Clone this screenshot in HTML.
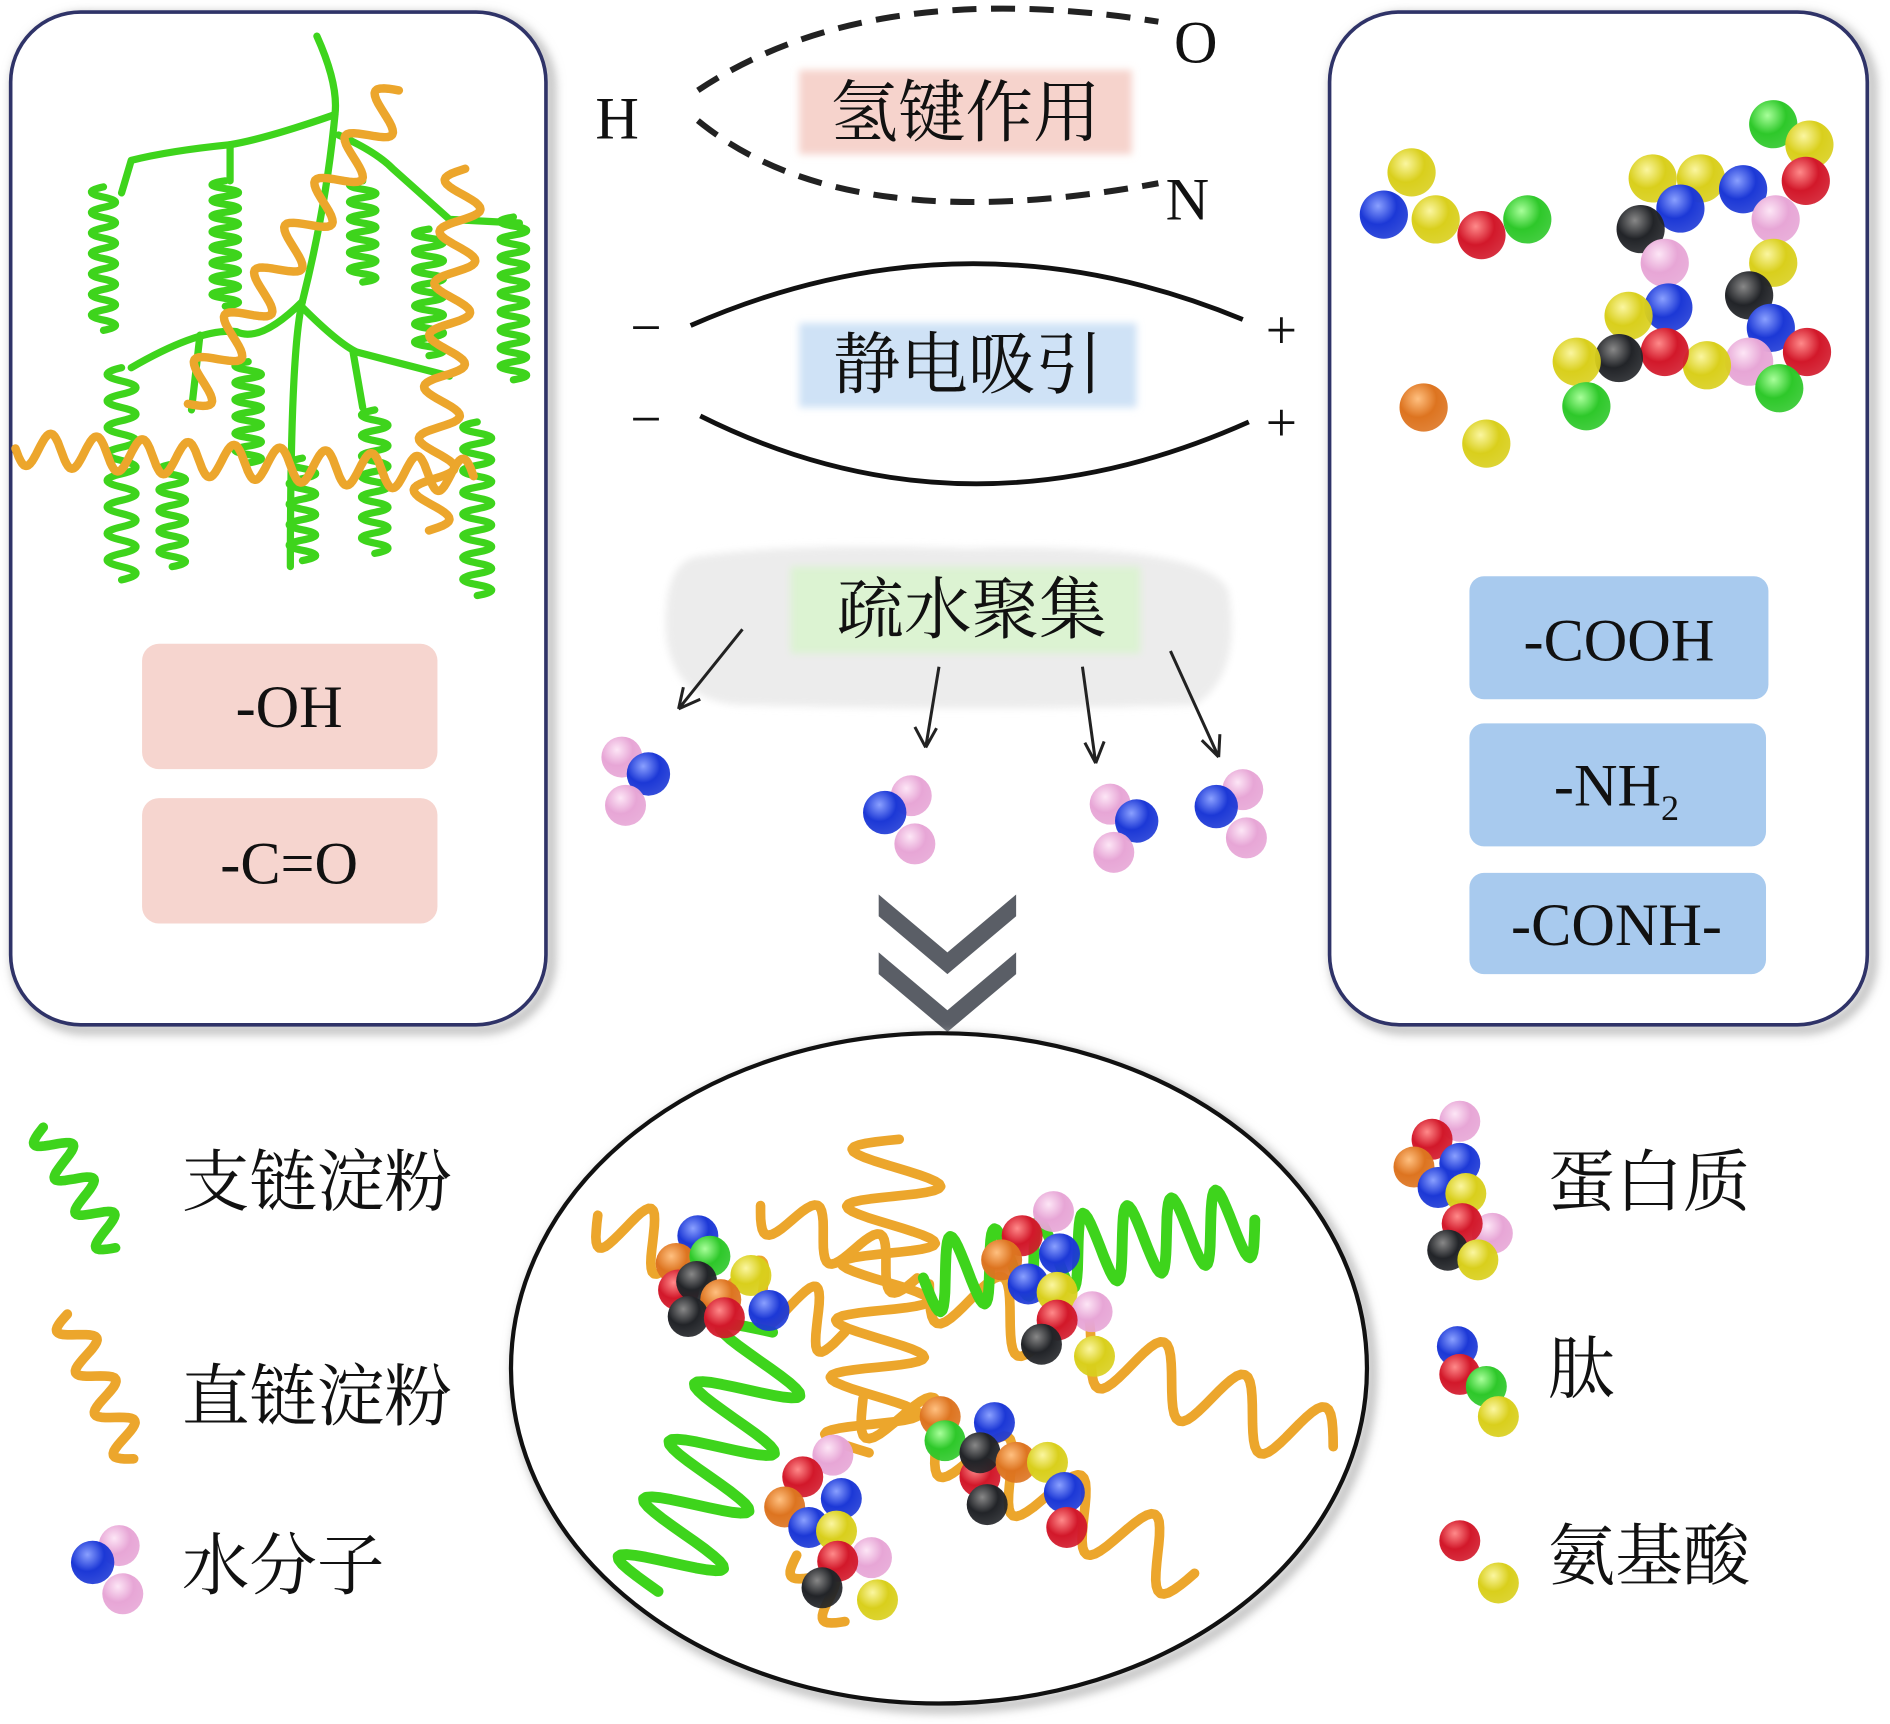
<!DOCTYPE html>
<html><head><meta charset="utf-8"><style>
html,body{margin:0;padding:0;background:#fff;width:1890px;height:1724px;overflow:hidden}
svg{display:block}
.cn{font-family:"Liberation Serif","Noto Serif CJK SC",serif;fill:#111}
.lt{font-family:"Liberation Serif",serif;fill:#111}
</style></head><body>
<svg id="s" width="1890" height="1724" viewBox="0 0 1566 1430" xmlns="http://www.w3.org/2000/svg">
<defs>
<filter id="blur" x="-20%" y="-20%" width="140%" height="140%"><feGaussianBlur stdDeviation="3"/></filter>
<filter id="sh" x="-10%" y="-10%" width="120%" height="120%"><feGaussianBlur stdDeviation="4"/></filter>
</defs>
<rect x="12" y="14" width="444" height="840" rx="58" fill="none" stroke="#bbb" stroke-width="8" filter="url(#sh)"/>
<rect x="8" y="10" width="444" height="840" rx="58" fill="#fff" stroke="#2f3368" stroke-width="3"/>
<rect x="1106" y="14" width="446" height="840" rx="58" fill="none" stroke="#bbb" stroke-width="8" filter="url(#sh)"/>
<rect x="1102" y="10" width="446" height="840" rx="58" fill="#fff" stroke="#2f3368" stroke-width="3"/>
<g id="left"></g>
<rect x="117" y="534" width="245" height="104" rx="14" fill="#f6d5cf"/>
<text class="lt" x="239" y="603" font-size="50" text-anchor="middle">-OH</text>
<rect x="117" y="662" width="245" height="104" rx="14" fill="#f6d5cf"/>
<text class="lt" x="239" y="733" font-size="50" text-anchor="middle">-C=O</text>
<rect x="1218" y="478" width="248" height="102" rx="12" fill="#a8caee"/>
<text class="lt" x="1342" y="548" font-size="50" text-anchor="middle">-COOH</text>
<rect x="1218" y="600" width="246" height="102" rx="12" fill="#a8caee"/>
<text class="lt" x="1340" y="668" font-size="50" text-anchor="middle">-NH<tspan font-size="30" dy="12">2</tspan></text>
<rect x="1218" y="724" width="246" height="84" rx="12" fill="#a8caee"/>
<text class="lt" x="1340" y="784" font-size="50" text-anchor="middle">-CONH-</text>
<text class="lt" x="493" y="115" font-size="50">H</text>
<text class="lt" x="973" y="52" font-size="50">O</text>
<text class="lt" x="966" y="182" font-size="50">N</text>
<path d="M578,75 Q720,-20 960,18" fill="none" stroke="#222" stroke-width="5" stroke-dasharray="20,12"/>
<path d="M578,100 Q700,200 960,152" fill="none" stroke="#222" stroke-width="5" stroke-dasharray="20,12"/>
<rect x="662" y="58" width="276" height="70" fill="#f6d3cc" filter="url(#blur)"/>
<text class="cn" x="800" y="113" font-size="56" text-anchor="middle">氢键作用</text>
<path d="M572,270 Q800,170 1030,265" fill="none" stroke="#111" stroke-width="4"/>
<path d="M580,345 Q800,455 1035,350" fill="none" stroke="#111" stroke-width="4"/>
<text class="lt" x="535" y="287" font-size="46" text-anchor="middle">−</text>
<text class="lt" x="535" y="363" font-size="46" text-anchor="middle">−</text>
<text class="lt" x="1062" y="289" font-size="46" text-anchor="middle">+</text>
<text class="lt" x="1062" y="366" font-size="46" text-anchor="middle">+</text>
<rect x="662" y="268" width="280" height="70" fill="#cfe2f6" filter="url(#blur)"/>
<text class="cn" x="802" y="322" font-size="56" text-anchor="middle">静电吸引</text>
<path d="M575,462 Q650,450 800,455 Q1000,450 1018,490 Q1030,560 990,585 Q800,590 620,585 Q560,585 552,530 Q548,470 575,462Z" fill="#ececec" filter="url(#blur)"/>
<rect x="655" y="470" width="290" height="72" fill="#dcf3d2" filter="url(#blur)"/>
<text class="cn" x="805" y="525" font-size="56" text-anchor="middle">疏水聚集</text>
<g stroke="#222" stroke-width="2.5" fill="none">
<path d="M615,522 L562,588 M562,588 L566,570 M562,588 L580,580"/>
<path d="M778,553 L767,620 M767,620 L758,603 M767,620 L776,604"/>
<path d="M897,553 L908,633 M908,633 L899,616 M908,633 L915,615"/>
<path d="M970,540 L1010,628 M1010,628 L996,614 M1010,628 L1011,609"/>
</g>
<path d="M728,742 L785,790 L842,742 L842,760 L785,808 L728,760Z" fill="#5a5e66"/>
<path d="M728,790 L785,838 L842,790 L842,808 L785,856 L728,808Z" fill="#5a5e66"/>
<ellipse cx="782" cy="1139" rx="355" ry="278" fill="none" stroke="#bbb" stroke-width="8" filter="url(#sh)"/>
<ellipse cx="778" cy="1135" rx="355" ry="278" fill="#fff" stroke="#111" stroke-width="3.5"/>
<g id="mid"></g>
<text class="cn" x="150" y="1000" font-size="56">支链淀粉</text>
<text class="cn" x="150" y="1178" font-size="56">直链淀粉</text>
<text class="cn" x="150" y="1318" font-size="56">水分子</text>
<text class="cn" x="1283" y="1000" font-size="56">蛋白质</text>
<text class="cn" x="1283" y="1155" font-size="56">肽</text>
<text class="cn" x="1283" y="1310" font-size="56">氨基酸</text>
<g id="balls"></g>
</svg>
<script>
var NS="http://www.w3.org/2000/svg",s=document.getElementById('s');
var defs=s.querySelector('defs');
var C={y:'#d9cf1c',b:'#1c38d6',r:'#d2182a',g:'#2ec82a',k:'#222428',p:'#e7a6d6',o:'#dd7420'};
var L={y:'#fbf6a0',b:'#8aa0ff',r:'#ff8a8a',g:'#a8ff9a',k:'#888',p:'#fde6f6',o:'#ffc080'};
for(var k in C){var gr=document.createElementNS(NS,'radialGradient');gr.setAttribute('id','g'+k);gr.setAttribute('cx','0.38');gr.setAttribute('cy','0.32');gr.setAttribute('r','0.7');
gr.innerHTML='<stop offset="0" stop-color="'+L[k]+'"/><stop offset="0.55" stop-color="'+C[k]+'"/><stop offset="1" stop-color="'+C[k]+'" stop-opacity="0.9"/>';defs.appendChild(gr);}
function el(p,t,a){var e=document.createElementNS(NS,t);for(var i in a)e.setAttribute(i,a[i]);document.getElementById(p).appendChild(e);return e;}
function ball(p,x,y,c,r){el(p,'circle',{cx:x,cy:y,r:r||19,fill:'url(#g'+c+')'});}
function line(p,d,col,w){el(p,'path',{d:d,fill:'none',stroke:col,'stroke-width':w||7,'stroke-linecap':'round','stroke-linejoin':'round'});}
function zig(p,x1,y1,x2,y2,a,n,col,w){var dx=x2-x1,dy=y2-y1,len=Math.hypot(dx,dy),nx=-dy/len,ny=dx/len,d='M'+x1+','+y1,N=n*12;
for(var i=1;i<=N;i++){var t=i/N,s=a*Math.sin(Math.PI*n*t);d+=' L'+(x1+dx*t+nx*s).toFixed(1)+','+(y1+dy*t+ny*s).toFixed(1);}line(p,d,col,w);}
function coil(p,x,y1,y2,a,pitch,col){var d='M'+x+','+y1,n=Math.round((y2-y1)/pitch);for(var i=0;i<n;i++){var y=y1+i*pitch;d+=' Q'+(x-a*2)+','+(y+pitch*0.25)+' '+x+','+(y+pitch*0.5)+' Q'+(x+a*2)+','+(y+pitch*0.75)+' '+x+','+(y+pitch);}line(p,d,col,6);}
var G='#3ed41c',O='#eca62c';
line('left','M262,30 Q280,70 277,95 Q270,170 250,250 Q240,290 240,470',G,6);
line('left','M277,95 Q220,115 190,120 Q140,125 108,133 L100,160',G,6);
line('left','M190,120 L190,150',G,6);
line('left','M280,112 Q310,125 325,140 L372,182 L430,185',G,6);
line('left','M250,250 Q215,285 195,275 Q165,272 108,305',G,6);
line('left','M165,278 L158,340',G,6);
line('left','M250,255 Q280,285 295,292 L372,312',G,6);
line('left','M292,292 L300,338',G,6);
[[85,155,280,10,17],[186,150,255,11,13],[300,150,230,11,14],[355,190,300,12,15],[425,180,310,11,15],[100,305,470,12,22],[142,385,475,11,17],[205,300,385,11,14],[250,380,470,11,17],[310,340,460,11,17],[395,350,495,12,18]].forEach(function(c){coil('left',c[0],c[1],c[2],c[3],c[4],G);});
zig('left',12,372,392,395,14,20,O);
zig('left',330,75,155,335,16,14,O);
zig('left',385,140,355,440,16,14,O);
function water(x,y,f){ball('balls',x,y,'p',17);ball('balls',x+(f?-22:22),y+14,'b',18);ball('balls',x+3,y+40,'p',17);}
water(515,628);water(755,660,1);water(920,667);water(1030,655,1);water(98,1282,1);
[[1170,143,'y'],[1147,178,'b'],[1190,182,'y'],[1228,195,'r'],[1266,182,'g'],[1470,103,'g'],[1500,120,'y'],[1497,150,'r'],[1410,148,'y'],[1370,148,'y'],[1445,157,'b'],[1393,173,'b'],[1360,190,'k'],[1472,182,'p'],[1380,218,'p'],[1470,218,'y'],[1450,245,'k'],[1383,255,'b'],[1350,262,'y'],[1468,272,'b'],[1498,292,'r'],[1450,300,'p'],[1415,303,'y'],[1380,292,'r'],[1342,297,'k'],[1307,300,'y'],[1315,337,'g'],[1475,322,'g'],[1180,338,'o'],[1232,368,'y']].forEach(function(b){ball('balls',b[0],b[1],b[2],20);});
zig('mid',35,935,95,1035,14,7,G,8);
zig('mid',55,1090,110,1210,14,7,O,8);
zig('mid',495,1008,700,1105,24,9,O,8);
zig('mid',745,945,720,1205,38,11,O,8);
zig('mid',630,1000,760,1060,20,5,O,8);
zig('mid',770,1065,1105,1200,28,10,O,8);
zig('mid',715,1160,990,1305,28,9,O,8);
zig('mid',660,1290,700,1345,14,3,O,8);
zig('mid',640,1105,545,1320,42,9,G,9);
zig('mid',765,1060,1040,1012,30,15,G,9);
[[578,1025,'b'],[560,1048,'o'],[588,1042,'g'],[622,1058,'y'],[562,1070,'r'],[577,1063,'k'],[597,1078,'o'],[637,1087,'b'],[570,1092,'k'],[600,1093,'r'],
[873,1005,'p'],[847,1025,'r'],[878,1040,'b'],[830,1045,'o'],[852,1065,'b'],[876,1072,'y'],[905,1088,'p'],[876,1095,'r'],[863,1115,'k'],[907,1125,'y'],
[779,1175,'o'],[824,1180,'b'],[783,1195,'g'],[812,1225,'r'],[812,1205,'k'],[842,1213,'o'],[868,1213,'y'],[882,1238,'b'],[818,1248,'k'],[884,1267,'r'],
[690,1207,'p'],[665,1225,'r'],[697,1243,'b'],[650,1250,'o'],[670,1267,'b'],[693,1270,'y'],[722,1292,'p'],[694,1295,'r'],[681,1317,'k'],[727,1327,'y'],
[1210,930,'p'],[1187,945,'r'],[1172,968,'o'],[1210,965,'b'],[1192,985,'b'],[1215,990,'y'],[1237,1023,'p'],[1212,1015,'r'],[1200,1037,'k'],[1225,1045,'y'],
[1208,1117,'b'],[1210,1140,'r'],[1232,1150,'g'],[1242,1175,'y'],[1210,1278,'r'],[1242,1313,'y']].forEach(function(b){ball('balls',b[0],b[1],b[2],17);});
</script>
</body></html>
